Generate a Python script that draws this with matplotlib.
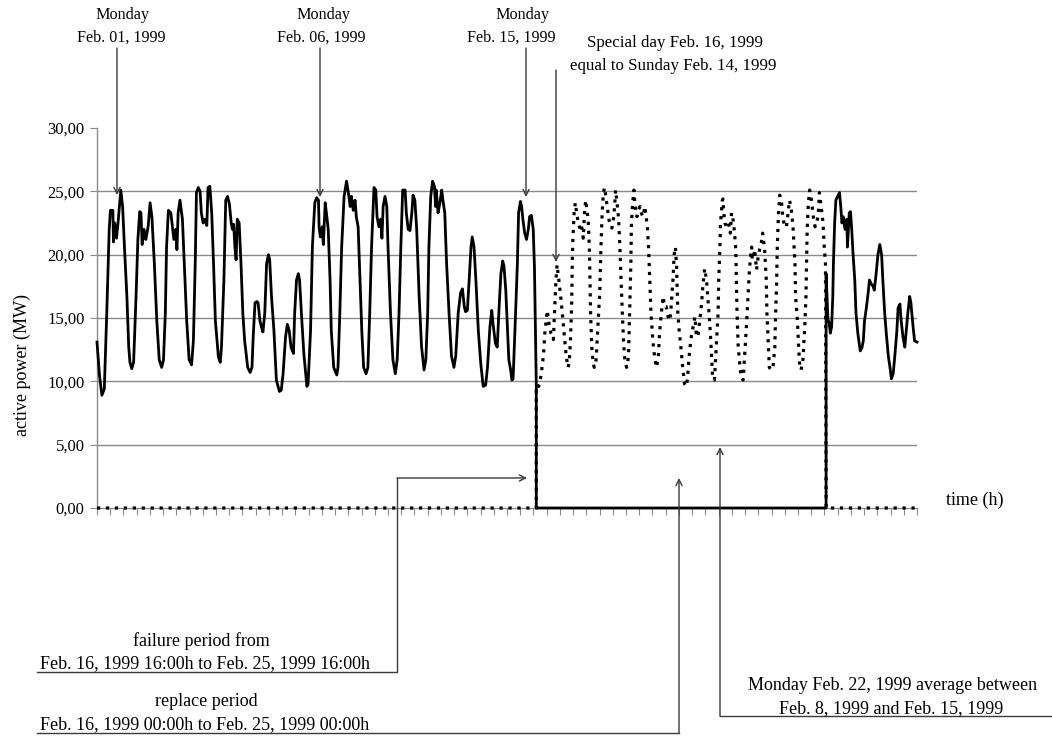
import numpy as np
import matplotlib.pyplot as plt

plt.rcParams['font.family'] = ['Liberation Serif', 'DejaVu Serif']

# hours counted from Feb. 01, 1999 00:00h, active power in MW
measured_before = [
    (0, 13.1), (2, 10.5), (4, 8.9), (6, 9.4), (8, 15.4), (10, 22), (11, 23.5), (13, 23.5),
    (13.5, 21), (14.5, 22.5), (16, 21.3), (17.5, 22.8), (19.5, 25.1), (21, 23.8), (22.5, 20.6),
    (24.5, 16.7), (26, 12.7), (27, 11.5), (28.5, 11),
    (30, 11.5), (32, 16.7), (33.5, 21.2), (35, 23.4), (36, 23.3), (37, 20.8), (38.5, 22),
    (40, 21.2), (41, 21.7), (42, 22.3), (43.5, 24.1), (45, 23), (47, 19.3), (49, 14.8),
    (51, 11.7), (53, 11.1),
    (54.5, 11.7), (56, 15.4), (57, 20.6), (58.5, 23.5), (60.5, 23.3), (62, 22), (63, 21.2),
    (64.5, 22), (65.5, 20.4), (66.5, 23.3), (68, 24.3), (70, 22.8), (71.5, 19.3), (73.5, 14.8),
    (75.5, 11.7), (77.5, 11.3),
    (79, 13.2), (80.5, 19.3), (81.5, 24.9), (83, 25.3), (84.5, 25), (85.5, 23.3), (87, 22.5),
    (88.5, 22.8), (90, 22.3), (91, 25.3), (92.5, 25.4), (94, 23.3), (95.5, 19.3), (97, 14.8),
    (99.5, 11.9), (101, 11.5),
    (102, 12.7), (104, 18), (105.5, 24.3), (107, 24.6), (108.5, 24), (110, 22.5), (111, 22),
    (112, 22.4), (113, 20.6), (114, 19.6), (115, 22.8), (116.5, 22.5), (118, 19.3),
    (119.5, 15.4), (121, 13.2), (123.5, 11.1), (125.5, 10.7),
    (127, 11.1), (128, 13.5), (129.5, 16.2), (131, 16.3), (132, 16.2), (133.5, 14.8),
    (135, 14.2), (136, 13.9), (137.5, 15.4), (139, 19.3), (140.5, 20), (141.5, 19.6),
    (143, 16.7), (145, 14), (147, 10.1), (149.5, 9.2), (151, 9.3),
    (152.5, 10.6), (154.5, 13.5), (156, 14.5), (157.5, 14), (159, 12.7), (161, 12.2),
    (162, 15.4), (163.5, 18), (165, 18.5), (166, 18), (167.5, 15.4), (169.5, 12.2),
    (172, 9.6), (173, 9.8), (175, 14), (176.5, 20.6), (178.5, 24.1), (180, 24.5), (181.5, 24.3),
    (182, 22.2), (183, 21.4), (184.5, 22.2), (185.5, 20.8), (187, 24.1), (188, 23.3),
    (189.5, 22), (191, 18), (192, 14), (194, 11.1), (196.5, 10.5),
    (197.5, 11.1), (199, 15.4), (200.5, 20.6), (202.5, 24.6), (204.5, 25.8), (206, 24.9),
    (207.5, 23.8), (208.5, 24.6), (210, 23.5), (211.5, 24.3), (212.5, 23), (214, 22.2),
    (215.5, 18), (217, 14), (218.5, 11.1), (220.5, 10.6),
    (222, 11.1), (223.5, 15.4), (225, 20.6), (227, 25.3), (228.5, 25.1), (229.5, 23),
    (231, 22.2), (232.5, 22.8), (233.5, 21.3), (234.5, 23.8), (236, 24.6), (237.5, 23.8),
    (238.5, 20.6), (240.5, 15.4), (242.5, 11.7), (244.5, 10.6),
    (246, 11.7), (247.5, 15.4), (249, 20.6), (250.5, 25.1), (252.5, 25.1), (253.5, 23.3),
    (255, 22), (256.5, 21.9), (258, 23.3), (259, 24.7), (260.5, 24.3), (262, 22), (264, 16.7),
    (266, 12.7), (268, 10.9),
    (269.5, 11.7), (271, 15.4), (272, 20.6), (273.5, 24.6), (275, 25.8), (276.5, 25.4),
    (277.5, 23.8), (278, 25.1), (279.5, 23.3), (281, 24.1), (282.5, 25.1), (283.5, 24.3),
    (285, 23.3), (286.5, 19.3), (288.5, 15.4), (290.5, 12), (292.5, 11.1),
    (294, 12), (296, 15.4), (298, 17), (299.5, 17.3), (301, 15.9), (302, 15.5), (303.5, 15.6),
    (305, 18), (306.5, 20.6), (307.5, 21.4), (309, 20.6), (310.5, 18), (312.5, 14),
    (314.5, 11.4), (316.5, 9.6),
    (318.5, 9.7), (320, 11.1), (322, 14.3), (323.5, 15.6), (324.5, 14.6), (326.5, 13),
    (328, 12.7), (329.5, 15.8), (331, 18.5), (332.5, 19.5), (333.5, 19.1), (335, 17.2),
    (336.5, 14), (337.5, 11.7), (339, 10.9), (340, 10.1),
    (341, 10.2), (342.5, 14), (344.5, 19.3), (345.5, 23.3), (347, 24.2), (348, 23.8),
    (349, 22.8), (350.5, 21.7), (352, 21.2), (353.5, 22), (354.5, 23), (356, 23.1),
    (357.5, 22), (358.5, 19), (359.5, 13), (360, 9.7),
]
measured_after = [
    (597.5, 18.5), (598.5, 16.2), (599, 14.9), (600, 14.6), (601, 13.8), (602, 14.3),
    (603, 16.7), (603.5, 19.3), (604.5, 22.5), (605.5, 24.3), (607, 24.6), (608.5, 24.9),
    (609.5, 23.8), (610.5, 22.5), (611.5, 23), (613, 22), (614.5, 22.8), (615, 20.6),
    (616.5, 23.3), (617.5, 23.4), (618.5, 22), (619.5, 20.2), (621, 18), (622, 15.4),
    (623.5, 13.8), (625.5, 12.4), (627, 12.7), (628, 13.2), (629, 14.8), (630.5, 15.8),
    (632, 17), (633, 18), (634.5, 17.7), (636, 17.5), (637, 17.2), (638.5, 18.5), (640, 20),
    (641.5, 20.8), (643, 20), (644, 18), (645.5, 15.4), (647, 13.6), (648.5, 12), (650, 11),
    (651, 10.2), (652.5, 10.6), (654, 12.2), (655.5, 14), (656.5, 15.8), (658, 16.1),
    (659, 14.8), (660.5, 13.5), (662, 12.7), (663, 13.8), (664.5, 15.4), (666, 16.7),
    (667, 16.2), (668.5, 14.6), (670, 13.2), (672, 13.1),
]
replacement = [
    (360, 9.7), (362, 9.6), (364, 10.5), (366, 12.2), (367, 13.8), (368, 14.7), (369, 15.6),
    (370.5, 14.5), (372, 13.8), (374, 13.3), (375, 15.6), (376, 17.8), (377, 19.2), (378.5, 18),
    (380, 16.7), (381.5, 15.2), (383, 13.6), (384.5, 12), (386, 11.1),
    (387, 11.5), (388, 13.2), (389, 16.1), (389.5, 19.5), (390, 21.2), (391, 23.3), (392, 24.1),
    (393, 23.3), (394.5, 22.5), (396, 22), (397, 22.3), (398.5, 21.3), (399.5, 23.3),
    (400.5, 24.3), (401.5, 23.6), (402.5, 22.8), (403.5, 20.6), (404, 18), (404.5, 15.4),
    (405.5, 12.7), (406.5, 11.5), (407.5, 11.1),
    (409, 11.7), (410.5, 14.4), (412, 17), (413, 20.6), (414, 23.3), (415, 24.9), (416, 25.3),
    (417, 24.6), (418.5, 23.5), (419.5, 22.8), (421, 22.2), (422, 22.1), (423.5, 23),
    (424.5, 24.3), (425, 25.1), (426.5, 23.8), (427.5, 22.8), (428.5, 20.6), (429.5, 18),
    (430.5, 15.4), (431.5, 13.2), (432.5, 11.7), (434, 11.1),
    (435.5, 11.9), (436.5, 15.4), (437.5, 19.3), (438, 22.5), (439, 24.1), (440, 25.1),
    (441, 23.8), (442.5, 23), (443.5, 23.5), (445, 23.8), (446, 23.3), (447.5, 23),
    (449, 23.8), (450, 23), (451, 22.2), (452, 20.6), (453, 18), (454, 15.4), (455.5, 13.2),
    (457, 11.9), (458.5, 11.1),
    (460, 11.9), (461, 13.8), (462.5, 15.4), (464, 16.7), (465, 15.9), (466.5, 15.9),
    (468, 15.1), (469.5, 14.8), (470.5, 15.9), (472, 18), (473, 20), (474, 20.6), (475, 19),
    (475.5, 17.2), (476, 15.4), (477, 14.1), (478.5, 12.7), (480, 11.1), (481.5, 9.8),
    (483, 9.6),
    (484, 10.3), (485, 11.7), (486, 12.7), (487, 13.5), (488.5, 14.3), (490, 15.1),
    (491, 13.8), (492.5, 13.5), (494, 14.8), (495.5, 16.2), (496.5, 17.5), (498, 18.9),
    (499.5, 18), (500.5, 16.7), (502, 14.8), (503, 13.2), (504.5, 10.3), (506, 10.1),
    (507.5, 12.7), (509, 15.4), (509.5, 18), (510.5, 20.6), (511, 22.5), (512.5, 24.3),
    (513, 24.4), (513.5, 23.5), (514.5, 22.5), (516, 22.2), (517.5, 22.5), (519, 21.7),
    (520, 23.3), (521, 23), (522.5, 21.7), (523.5, 20.4), (524, 18), (524.5, 15.4),
    (525.5, 12.7), (527, 11.1), (528, 10.3), (529.5, 10.1),
    (530.5, 11.7), (532, 14), (533.5, 16.7), (534.5, 18.5), (535.5, 19.8), (536.5, 20.6),
    (537, 19.6), (538, 19.8), (539, 20.4), (540.5, 18.8), (541.5, 19.6), (543, 20.4),
    (544.5, 21), (545.5, 21.7), (547, 20.6), (548.5, 18), (549, 15.4), (550, 13.3),
    (551, 11.1), (552.5, 10.9),
    (554, 11.1), (555.5, 12.7), (556, 14.8), (557, 18), (557.5, 20.6), (558.5, 23.3),
    (559.5, 24.7), (561, 24.1), (562, 23), (563.5, 22.2), (565, 22.2), (566, 23),
    (567.5, 24.3), (569, 23.6), (570.5, 22), (572, 19.3), (572.5, 16.7), (574, 14.8),
    (575, 12.7), (576, 11.1), (577, 10.9),
    (578.5, 11.7), (580, 14.3), (581, 16.7), (581.5, 19.3), (582, 22), (583, 24.1),
    (584, 25.1), (585.5, 24.3), (587, 23), (588.5, 22.2), (589.5, 22.5), (591, 23),
    (592, 24.9), (593.5, 23.8), (595, 22.5), (596, 20.6), (597, 19.3),
]
fail_start = 360
fail_end = 597.5
n_hours = 672
y_ticks = [0, 5, 10, 15, 20, 25, 30]
grid_levels = [5, 10, 15, 20, 25]

# measured series drops to zero while the meter failed
measured = measured_before + [(fail_start, 0), (fail_end, 0)] + measured_after
# replacement series is zero outside the replace period
replaced = [(0, 0), (fail_start, 0)] + replacement + [(fail_end, 0), (n_hours, 0)]
mh, mv = zip(*measured)
rh, rv = zip(*replaced)

fig = plt.figure(figsize=(10.52, 7.38), dpi=100)
ax = fig.add_axes([97 / 1052, 1 - 508 / 738, 820 / 1052, 380 / 738])
ax.set_xlim(0, n_hours)
ax.set_ylim(0, 30)

gray = '#8a8a8a'
ax.hlines(grid_levels, 0, n_hours, color=gray, lw=1, zorder=1)
ax.plot(rh, rv, color='black', lw=2.3, linestyle=(0, (1.0, 1.8)),
        dash_capstyle='butt', clip_on=False, zorder=3)
ax.plot(mh, mv, color='black', lw=2.0, clip_on=False, zorder=4)

for s in ['top', 'right']:
    ax.spines[s].set_visible(False)
for s in ['left', 'bottom']:
    ax.spines[s].set_color(gray)
    ax.spines[s].set_linewidth(1)

ax.set_yticks(y_ticks)
ax.set_yticklabels([f'{v:.2f}'.replace('.', ',') for v in y_ticks])
ax.tick_params(axis='y', direction='out', length=5, color=gray, labelsize=12, pad=4)
ax.set_xticks(np.linspace(0, n_hours, 63))
ax.tick_params(axis='x', direction='out', length=5, color=gray, labelbottom=False)

# overlay in pixel units for the notes
ov = fig.add_axes([0, 0, 1, 1], zorder=5)
ov.set_xlim(0, 1052)
ov.set_ylim(738, 0)
ov.axis('off')
ov.patch.set_alpha(0)

line_col = '#3a3a3a'


def note_arrow(points):
    xs, ys = zip(*points)
    if len(points) > 2:
        ov.plot(xs[:-1], ys[:-1], color=line_col, lw=1)
    ov.annotate('', xy=points[-1], xytext=points[-2],
                arrowprops=dict(arrowstyle='->', color=line_col, lw=1,
                                shrinkA=0, shrinkB=0, mutation_scale=11))


def label(x, y, s, fs):
    ov.text(x, y, s, ha='center', va='center', fontsize=fs)


label(122, 15, 'Monday', 11.6)
label(121, 38, 'Feb. 01, 1999', 11.6)
note_arrow([(117, 48), (117, 195)])

label(323, 15, 'Monday', 11.6)
label(321, 38, 'Feb. 06, 1999', 11.6)
note_arrow([(320, 48), (320, 197)])

label(522, 15, 'Monday', 11.6)
label(511, 38, 'Feb. 15, 1999', 11.6)
note_arrow([(526, 48), (526, 197)])

label(675, 43, 'Special day Feb. 16, 1999', 12.2)
label(673, 66, 'equal to Sunday Feb. 14, 1999', 12.2)
note_arrow([(556, 70), (556, 262)])

label(201, 641, 'failure period from', 13)
label(205, 664, 'Feb. 16, 1999 16:00h to Feb. 25, 1999 16:00h', 13)
note_arrow([(37, 672), (397, 672), (397, 478), (527, 478)])

label(206, 702, 'replace period', 13)
label(205, 725, 'Feb. 16, 1999 00:00h to Feb. 25, 1999 00:00h', 13)
note_arrow([(37, 733), (679, 733), (679, 478)])

label(893, 685, 'Monday Feb. 22, 1999 average between', 13)
label(891, 709, 'Feb. 8, 1999 and Feb. 15, 1999', 13)
note_arrow([(1052, 716), (720, 716), (720, 447)])

ov.text(975, 500, 'time (h)', ha='center', va='center', fontsize=13)
ov.text(22, 365, 'active power (MW)', ha='center', va='center', fontsize=13, rotation=90)

fig.savefig('out.png', dpi=100)
